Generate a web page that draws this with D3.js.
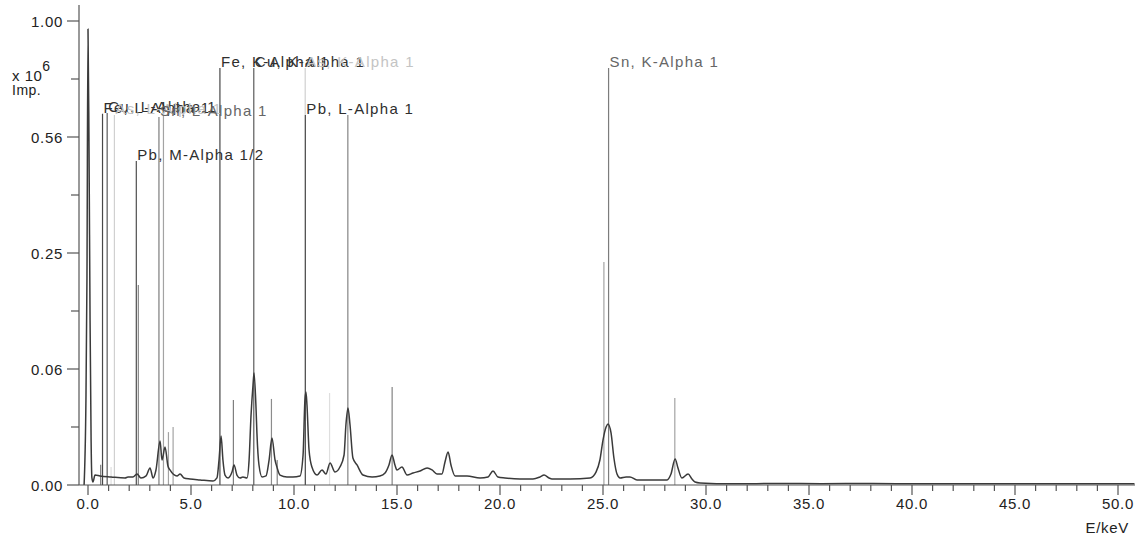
<!DOCTYPE html>
<html><head><meta charset="utf-8">
<script src="https://cdn.jsdelivr.net/npm/d3@7"></script>
<style>
html,body{margin:0;padding:0;background:#fff;}
svg{display:block;}
text{font-family:"Liberation Sans",Arial,sans-serif;}
</style></head>
<body>
<svg id="chart" width="1135" height="541"></svg>
<script>
// ---- data (energy in keV, intensity in 10^6 impulses) ----
const spectrumEnergy = [-0.19,-0.10,-0.05,0.00,0.05,0.10,0.15,0.19,0.24,0.34,0.58,1.12,1.80,1.94,2.18,2.38,2.57,2.82,3.01,3.16,3.30,3.50,3.59,3.74,3.88,3.98,4.32,4.47,4.66,4.95,5.44,6.07,6.26,6.36,6.46,6.55,6.65,6.80,6.99,7.09,7.23,7.38,7.52,7.72,7.82,7.91,8.01,8.06,8.16,8.20,8.30,8.45,8.64,8.79,8.93,9.08,9.17,9.32,9.66,9.95,10.29,10.44,10.53,10.58,10.63,10.73,10.87,11.12,11.36,11.55,11.75,11.99,12.23,12.43,12.52,12.62,12.72,12.86,13.06,13.35,13.79,14.17,14.42,14.61,14.76,14.90,15.00,15.24,15.49,15.78,16.12,16.46,16.70,16.94,17.18,17.33,17.48,17.62,17.82,18.40,19.03,19.42,19.66,19.90,20.24,20.97,21.60,21.94,22.14,22.38,22.52,23.40,24.37,24.66,24.85,25.00,25.15,25.24,25.39,25.53,25.68,25.83,26.12,26.31,26.65,28.11,28.30,28.50,28.64,28.83,29.13,29.32,29.47,29.71,31.31,33.6,35.6,38.0,40.5,43.0,45.5,48.0,50.8];
const spectrumCounts = [0,0.0336,0.201,0.966,0.521,0.126,0.0094,0.00023,0.00004,0.00046,0.00038,0.0003,0.00023,0.0003,0.0003,0.00056,0.00023,0.00038,0.00134,0.00023,0.00105,0.00899,0.0029,0.0067,0.00168,0.00105,0.00038,0.00056,0.00023,0.00017,0.00012,0.000074,0.00023,0.0029,0.01115,0.0029,0.00046,0.00023,0.00078,0.00186,0.00046,0.00023,0.0003,0.00023,0.0029,0.0215,0.0464,0.0583,0.0261,0.01256,0.00186,0.0003,0.00038,0.0029,0.01026,0.0029,0.0015,0.00046,0.0003,0.0003,0.00038,0.00418,0.0336,0.0402,0.0297,0.0057,0.0015,0.00046,0.00105,0.00056,0.00225,0.00078,0.0015,0.00418,0.0167,0.0275,0.0167,0.00339,0.00186,0.00046,0.0003,0.00038,0.00067,0.00186,0.00418,0.00186,0.00105,0.0015,0.00046,0.00067,0.00091,0.00134,0.00105,0.00056,0.00056,0.00246,0.00506,0.00186,0.00038,0.00038,0.00023,0.0003,0.00091,0.0003,0.00023,0.00017,0.00017,0.0003,0.00046,0.00023,0.00017,0.00017,0.00023,0.00078,0.0029,0.0094,0.0156,0.0173,0.0126,0.00339,0.00056,0.00023,0.0003,0.0003,0.00012,0.00012,0.00056,0.00314,0.00134,0.00023,0.00056,0.00017,0.00004,0.000019,0.000006,0.000012,0.000008,0.000012,0.000006,0.000008,0.000006,0.000006,0.000006];

const markerEnergy  = [0.615,0.705,0.930,1.120,1.282,2.345,2.443,3.444,3.663,3.905,4.131,6.404,7.058,8.048,8.905,9.185,10.544,10.551,11.726,12.614,14.764,25.044,25.271,28.486];
const markerHeight  = [0.0019,0.64,0.643,0.0015,0.636,0.4876,0.186,0.629,0.636,0.013,0.0156,0.8077,0.0336,0.8077,0.0344,0.0029,0.8077,0.636,0.0393,0.636,0.0446,0.231,0.8077,0.0352];
const markerElement = ["Fe","Fe","Cu","As","As","Pb","Pb","Sn","Sn","Sn","Sn","Fe","Fe","Cu","Cu","Pb","As","Pb","As","Pb","Pb","Sn","Sn","Sn"];
const markerLabel   = ["","Fe, L-Alpha 1","Cu, L-Alpha 1","","As, L-Alpha 1","Pb, M-Alpha 1/2","","Sn, L-Alpha 1","","","","Fe, K-Alpha 1","","Cu, K-Alpha 1","","","As, K-Alpha 1","Pb, L-Alpha 1","","","","","Sn, K-Alpha 1",""];

const xTickValues = [0,5,10,15,20,25,30,35,40,45,50];
const yTickValues = [0,0.0625,0.25,0.5625,1.0];
const yMinorValues = [0.015625,0.140625,0.390625,0.765625];
const xAxisTitle = "E/keV";
const yAxisTitle = "Imp.";

// ---- layout ----
const svg = d3.select("#chart");
const x = d3.scaleLinear().domain([0,50]).range([88,1118]);
const y = d3.scaleSqrt().domain([0,1]).range([485,21]);
const axisColor = "#555";
const elementColor = d3.scaleOrdinal()
  .domain(["Fe","Cu","Pb","Sn","As"])
  .range(["#474747","#5a5a5a","#4f4f4f","#7c7c7c","#d0d0d0"]);
const labelColor = d3.scaleOrdinal()
  .domain(["Fe","Cu","Pb","Sn","As"])
  .range(["#2e2e2e","#333","#2e2e2e","#666","#c4c4c4"]);
const lineColor = (i) => markerLabel[i] ? elementColor(markerElement[i])
                       : d3.interpolateRgb(elementColor(markerElement[i]), "#fff")(0.3);

// marker lines
const markers = markerEnergy.map((e,i)=>({e, h:markerHeight[i], el:markerElement[i], label:markerLabel[i], i}));
svg.append("g").selectAll("line").data(markers).join("line")
  .attr("x1", d=>x(d.e)).attr("x2", d=>x(d.e))
  .attr("y1", y(0)).attr("y2", d=>y(d.h))
  .attr("stroke", d=>lineColor(d.i)).attr("stroke-width",1.2);

// spectrum
const spec = spectrumEnergy.map((e,i)=>[e, spectrumCounts[i]]);
svg.append("path").datum(spec)
  .attr("fill","none").attr("stroke","#3a3a3a").attr("stroke-width",1.5)
  .attr("stroke-linejoin","round")
  .attr("d", d3.line().x(d=>x(d[0])).y(d=>y(d[1])).curve(d3.curveMonotoneX));

// marker labels
svg.append("g").selectAll("text").data(markers.filter(d=>d.label)).join("text")
  .attr("x", d=>x(d.e)+1).attr("y", d=>y(d.h)-1)
  .attr("font-size",15).attr("letter-spacing","1.3px")
  .attr("fill", d=>labelColor(d.el))
  .text(d=>d.label);

// x axis
const gx = svg.append("g");
gx.append("line").attr("x1",79).attr("x2",1135).attr("y1",485).attr("y2",485)
  .attr("stroke",axisColor).attr("stroke-width",1.2);
gx.selectAll("line.minor").data(d3.range(0,51,1)).join("line").attr("class","minor")
  .attr("x1",d=>x(d)).attr("x2",d=>x(d)).attr("y1",485).attr("y2",d=>d%5===0?495:491)
  .attr("stroke",axisColor).attr("stroke-width",1.2);
gx.selectAll("text").data(xTickValues).join("text")
  .attr("x",d=>x(d)).attr("y",509).attr("text-anchor","middle")
  .attr("font-size",15).attr("letter-spacing","0.7px").attr("fill","#222")
  .text(d=>d3.format(".1f")(d));
svg.append("text").attr("x",1129).attr("y",533).attr("text-anchor","end")
  .attr("font-size",15).attr("letter-spacing","0.7px").attr("fill","#222").text(xAxisTitle);

// y axis
const gy = svg.append("g");
gy.append("line").attr("x1",79).attr("x2",79).attr("y1",5).attr("y2",485)
  .attr("stroke",axisColor).attr("stroke-width",1.2);
gy.selectAll("line.maj").data(yTickValues).join("line").attr("class","maj")
  .attr("x1",67).attr("x2",79).attr("y1",d=>y(d)).attr("y2",d=>y(d))
  .attr("stroke",axisColor).attr("stroke-width",1.2);
gy.selectAll("line.min").data(yMinorValues).join("line").attr("class","min")
  .attr("x1",71).attr("x2",79).attr("y1",d=>y(d)).attr("y2",d=>y(d))
  .attr("stroke",axisColor).attr("stroke-width",1.2);
gy.selectAll("text").data(yTickValues).join("text")
  .attr("x",63).attr("y",d=>y(d)+5.5).attr("text-anchor","end")
  .attr("font-size",15).attr("letter-spacing","0.7px").attr("fill","#222")
  .text(d=>d3.format(".2f")(d));
const t = svg.append("text").attr("x",12).attr("y",81).attr("font-size",15).attr("letter-spacing","0.5px").attr("fill","#222");
t.append("tspan").text("x 10");
t.append("tspan").attr("dy",-10).attr("font-size",14).text("6");
svg.append("text").attr("x",12).attr("y",95).attr("font-size",14).attr("letter-spacing","0.5px").attr("fill","#222").text(yAxisTitle);
</script>
</body></html>
